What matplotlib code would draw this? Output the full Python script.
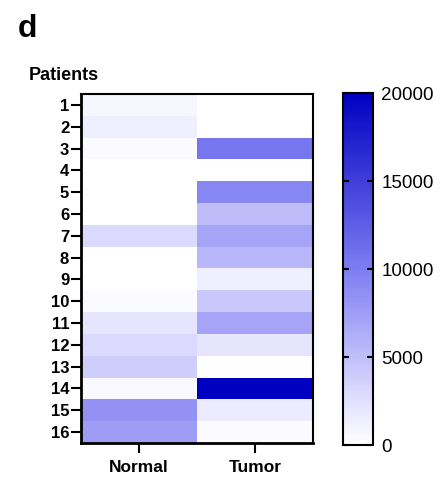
import matplotlib
matplotlib.use("Agg")
import matplotlib.pyplot as plt
import numpy as np
from matplotlib.colors import LinearSegmentedColormap

plt.rcParams['font.family'] = ['Liberation Sans', 'DejaVu Sans']

patients = [str(i) for i in range(1, 17)]
groups = ["Normal", "Tumor"]
normal = [700, 1300, 400, 0, 0, 0, 2900, 0, 0, 400, 2100, 2900, 3900, 500, 8300, 7500]
tumor = [0, 0, 10500, 0, 9200, 5100, 7000, 5500, 1300, 4300, 7000, 2100, 0, 20000, 1600, 400]
cbar_ticks = [0, 5000, 10000, 15000, 20000]

data = np.array([normal, tumor]).T

cmap = LinearSegmentedColormap.from_list(
    "white_blue",
    [(0.0, (1, 1, 1)), (0.1, (0.91, 0.90, 1.0)), (0.5, (0.49, 0.49, 0.95)), (1.0, (0.0, 0.0, 0.76))],
)

fig = plt.figure(figsize=(4.4, 4.78), dpi=100)
ax = fig.add_axes([0.184, 0.0732, 0.527, 0.730])
cax = fig.add_axes([0.780, 0.069, 0.068, 0.736])

im = ax.imshow(data, cmap=cmap, vmin=0, vmax=20000, aspect="auto", interpolation="nearest")

ax.set_yticks(range(len(patients)))
ax.set_yticklabels(patients, fontsize=12, fontweight="bold")
ax.set_xticks(range(len(groups)))
ax.set_xticklabels(groups, fontsize=12.5, fontweight="bold")
ax.tick_params(axis="both", direction="out", length=7, width=1.5, color="black", pad=1.5)
ax.tick_params(axis="x", pad=5)
for side, sp in ax.spines.items():
    sp.set_linewidth(2.0 if side in ("left", "bottom") else 1.5)
    sp.set_color("black")

cb = fig.colorbar(im, cax=cax, ticks=cbar_ticks)
cb.outline.set_linewidth(1.5)
cb.outline.set_edgecolor("black")
cax.tick_params(axis="y", direction="in", length=4, width=1.5, left=True, right=True,
                labelsize=13.5, pad=6)
cax.set_yticklabels([str(t) for t in cbar_ticks])

fig.text(0.066, 0.833, "Patients", fontsize=13, fontweight="bold", va="baseline", ha="left")
fig.text(0.040, 0.923, "d", fontsize=23, fontweight="bold", va="baseline", ha="left")

fig.savefig("out.png", dpi=100)
